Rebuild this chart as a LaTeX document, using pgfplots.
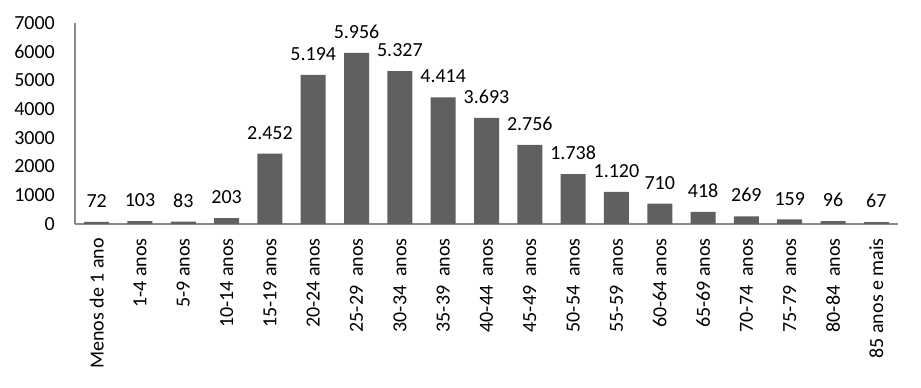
\documentclass[border=0pt]{standalone}
\usepackage{pgfplots}
\pgfplotsset{compat=1.18}
\usepackage{fontspec}
\setmainfont{Carlito}
\definecolor{barc}{HTML}{606060}
\definecolor{axc}{HTML}{8A8A8A}
\begin{document}
\begin{tikzpicture}
\path[use as bounding box] (-75pt,-164pt) rectangle (846pt,224pt);
\begin{axis}[
  at={(0pt,0pt)}, anchor=south west,
  scale only axis, width=823pt, height=201pt,
  xmin=-0.5, xmax=18.5, ymin=0, ymax=7000,
  axis x line*=bottom, axis y line*=left,
  x axis line style={-}, y axis line style={-},
  axis line style={draw=axc, line width=1.2pt},
  major tick length=0pt,
  clip=false,
  ytick={0,1000,...,7000},
  /pgf/number format/1000 sep={},
  /pgf/number format/assume math mode=true,
  yticklabel style={font=\fontsize{20}{24}\selectfont, inner sep=0pt, xshift=-20pt, anchor=east},
  xtick={0,...,18},
  xticklabels={Menos de 1 ano, 1-4 anos, 5-9 anos, 10-14 anos, 15-19 anos, 20-24 anos,
    25-29\ \ anos, 30-34\ \ anos, 35-39\ \ anos, 40-44\ \ anos, 45-49\ \ anos,
    50-54\ \ anos, 55-59\ \ anos, 60-64 anos, 65-69 anos, 70-74\ \ anos,
    75-79\ \ anos, 80-84\ \ anos, 85 anos e mais},
  xticklabel style={font=\fontsize{20}{24}\selectfont, inner sep=0pt, yshift=-14pt, rotate=90, anchor=east},
  point meta=explicit symbolic,
  nodes near coords,
  every node near coord/.append style={font=\fontsize{20}{24}\selectfont, inner sep=0pt, anchor=south, yshift=14pt, text=black},
]
\addplot[ybar, bar width=25pt, fill=barc, draw=none] coordinates {
  (0,72) [72]
  (1,103) [103]
  (2,83) [83]
  (3,203) [203]
  (4,2452) [2.452]
  (5,5194) [5.194]
  (6,5956) [5.956]
  (7,5327) [5.327]
  (8,4414) [4.414]
  (9,3693) [3.693]
  (10,2756) [2.756]
  (11,1738) [1.738]
  (12,1120) [1.120]
  (13,710) [710]
  (14,418) [418]
  (15,269) [269]
  (16,159) [159]
  (17,96) [96]
  (18,67) [67]
};
\end{axis}
\end{tikzpicture}
\end{document}
